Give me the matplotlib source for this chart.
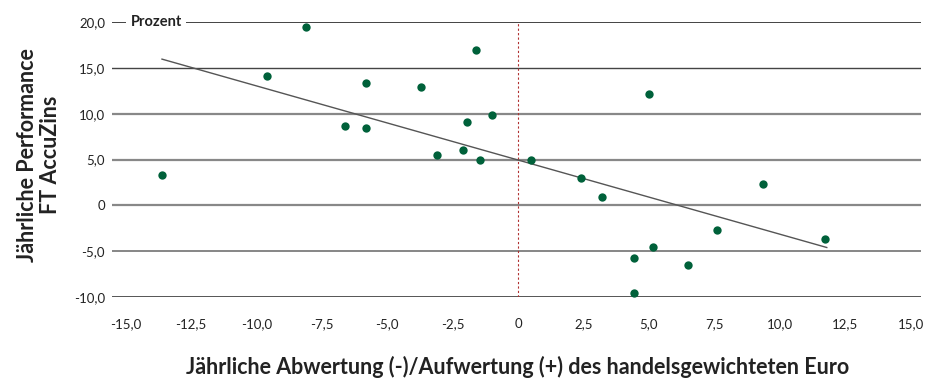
import matplotlib
matplotlib.use("Agg")
import matplotlib.pyplot as plt

plt.rcParams['font.family'] = ['Lato', 'DejaVu Sans']

# Abwertung/Aufwertung des Euro (x) vs. Performance FT AccuZins (y)
euro_x = [-13.6, -9.6, -8.1, -6.6, -5.8, -5.8, -3.7, -3.1, -2.1, -1.95, -1.6, -1.45,
          -1.0, 0.5, 2.4, 3.2, 5.0, 4.45, 5.15, 4.45, 6.5, 7.6, 9.35, 11.75]
perf_y = [3.3, 14.1, 19.5, 8.7, 13.4, 8.4, 12.9, 5.5, 6.0, 9.1, 17.0, 4.9,
          9.9, 5.0, 3.0, 0.9, 12.1, -5.7, -4.5, -9.6, -6.5, -2.7, 2.3, -3.7]
trend_x = [-13.6, 11.8]
trend_y = [15.95, -4.6]

yticks = [20, 15, 10, 5, 0, -5, -10]
ytick_labels = ['20,0', '15,0', '10,0', '5,0', '0', '-5,0', '-10,0']
xticks = [-15, -12.5, -10, -7.5, -5, -2.5, 0, 2.5, 5, 7.5, 10, 12.5, 15]
xtick_labels = ['-15,0', '-12,5', '-10,0', '-7,5', '-5,0', '-2,5', '0',
                '2,5', '5,0', '7,5', '10,0', '12,5', '15,0']

fig = plt.figure(figsize=(9.35, 3.78), dpi=100)
ax = fig.add_axes([112/935, 1-297/378, (921-112)/935, (297-22)/378])
ax.set_xlim(-15.51, 15.40)
ax.set_ylim(-10, 20)

# horizontale Linien
grid_style = {20: ('#222222', 1.2), 15: ('#444444', 1.0), 10: ('#888888', 1.6),
              5: ('#888888', 1.6), 0: ('#888888', 1.6), -5: ('#666666', 1.1),
              -10: ('#222222', 1.8)}
for v in yticks:
    c, lw = grid_style[v]
    ax.axhline(v, color=c, lw=lw, zorder=1)

ax.plot([0, 0], [-10, 20], color='#b03030', lw=0.8, ls=(0, (2, 2)), zorder=2)
ax.plot(trend_x, trend_y, color='#555555', lw=1.0, zorder=3)
ax.scatter(euro_x, perf_y, s=36, color='#00613a', zorder=4, clip_on=False, linewidths=0)

ax.text(-14.8, 20, 'Prozent', ha='left', va='center', fontsize=10.5, fontweight='bold',
        color='#222222', zorder=5,
        bbox=dict(facecolor='white', edgecolor='none', pad=3))

for s in ax.spines.values():
    s.set_visible(False)
ax.set_yticks(yticks)
ax.set_yticklabels(ytick_labels, fontsize=9.5)
ax.set_xticks(xticks)
ax.set_xticklabels(xtick_labels, fontsize=9.5)
ax.tick_params(axis='both', length=0, colors='#222222')
ax.tick_params(axis='y', pad=5)
ax.tick_params(axis='x', pad=15)

fig.text(0.042, 1-155/378, 'Jährliche Performance\nFT AccuZins', rotation=90,
         rotation_mode='anchor', ha='center', va='center', fontsize=15.5,
         fontweight='bold', color='#222222', linespacing=1.1)
fig.text(518/935, 0.03, 'Jährliche Abwertung (-)/Aufwertung (+) des handelsgewichteten Euro',
         ha='center', va='center', fontsize=15.5, fontweight='bold', color='#222222')

fig.savefig('out.png', dpi=100)
